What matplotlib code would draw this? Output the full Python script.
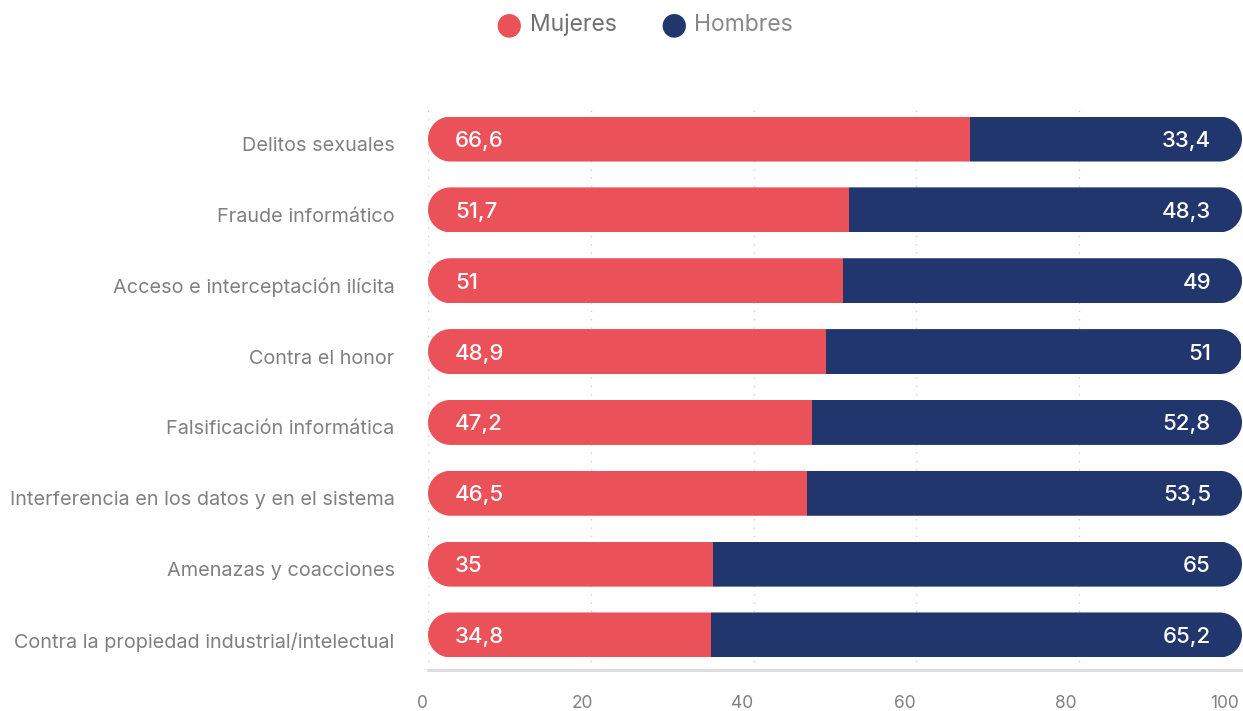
import matplotlib
matplotlib.use("Agg")
import matplotlib.pyplot as plt
import matplotlib.transforms as mtransforms
from matplotlib.patches import Polygon
import numpy as np

plt.rcParams['font.family'] = ['Inter', 'DejaVu Sans']

categories = [
    "Delitos sexuales",
    "Fraude informático",
    "Acceso e interceptación ilícita",
    "Contra el honor",
    "Falsificación informática",
    "Interferencia en los datos y en el sistema",
    "Amenazas y coacciones",
    "Contra la propiedad industrial/intelectual",
]
mujeres = [66.6, 51.7, 51, 48.9, 47.2, 46.5, 35, 34.8]
hombres = [33.4, 48.3, 49, 51, 52.8, 53.5, 65, 65.2]
xticks = [0, 20, 40, 60, 80, 100]

RED = "#EA5159"
BLUE = "#22366E"
GRAY = "#808080"

W, H = 1243, 711
fig = plt.figure(figsize=(W / 100, H / 100), dpi=100)
ax_l, ax_r, ax_t, ax_b = 428, 1242, 103.6, 670.4
ax = fig.add_axes([ax_l / W, (H - ax_b) / H, (ax_r - ax_l) / W, (ax_b - ax_t) / H])

n = len(categories)
ax.set_xlim(0, 100)
ax.set_ylim(n - 0.5, -0.5)

# pixels per data unit, for pill shaped bars
px_x = (ax_r - ax_l) / 100
px_y = (ax_b - ax_t) / n
bar_h = 45 / px_y
rx = (45 / 2) / px_x
ry = bar_h / 2


def pill(yc):
    t = np.linspace(np.pi / 2, 3 * np.pi / 2, 40)
    left = np.column_stack([rx + rx * np.cos(t), yc + ry * np.sin(t)])
    t2 = np.linspace(-np.pi / 2, np.pi / 2, 40)
    right = np.column_stack([100 - rx + rx * np.cos(t2), yc + ry * np.sin(t2)])
    return Polygon(np.vstack([left, right]), closed=True, facecolor="none",
                   edgecolor="none", transform=ax.transData)


y = np.arange(n)
for xv in xticks:
    ax.axvline(xv, color="#cfcfcf", lw=1, ls=(0, (1, 5)), zorder=0)

red_bars = ax.barh(y, mujeres, height=bar_h, color=RED, zorder=2)
blue_bars = ax.barh(y, hombres, left=mujeres, height=bar_h, color=BLUE, zorder=2)

for i in range(n):
    p = pill(y[i])
    ax.add_patch(p)
    red_bars[i].set_clip_path(p)
    blue_bars[i].set_clip_path(p)

    lbl_m = f"{mujeres[i]:g}".replace(".", ",")
    lbl_h = f"{hombres[i]:g}".replace(".", ",")
    ax.annotate(lbl_m, (0, y[i]), xytext=(27, -2), textcoords="offset pixels",
                color="white", fontsize=16, fontweight="medium",
                va="center", ha="left", zorder=3)
    ax.annotate(lbl_h, (100, y[i]), xytext=(-31, -2), textcoords="offset pixels",
                color="white", fontsize=16, fontweight="medium",
                va="center", ha="right", zorder=3)

ax.set_yticks(y)
ax.set_yticklabels(categories, fontsize=14.3, color=GRAY)
ax.tick_params(axis="y", length=0, pad=24)
down = mtransforms.ScaledTranslation(0, -5 / 100, fig.dpi_scale_trans)
for lab in ax.get_yticklabels():
    lab.set_transform(lab.get_transform() + down)

ax.set_xticks(xticks)
ax.set_xticklabels([str(v) for v in xticks], fontsize=12.5, color=GRAY)
ax.tick_params(axis="x", length=0, pad=18)
x_shift = [-6, -8, -12, -12, -13, -17]
for lab, dx in zip(ax.get_xticklabels(), x_shift):
    lab.set_transform(lab.get_transform()
                      + mtransforms.ScaledTranslation(dx / 100, 0, fig.dpi_scale_trans))

for s in ["top", "right", "left"]:
    ax.spines[s].set_visible(False)
ax.spines["bottom"].set_color("#dcdcdc")
ax.spines["bottom"].set_linewidth(2)

# legend
ly = 1 - 25 / H
fig.text(509 / W, ly, "●", color=RED, fontsize=22, ha="center", va="center",
         family="DejaVu Sans")
fig.text(530 / W, ly, "Mujeres", color="#707070", fontsize=16.5, ha="left", va="center")
fig.text(674 / W, ly, "●", color=BLUE, fontsize=22, ha="center", va="center",
         family="DejaVu Sans")
fig.text(694 / W, ly, "Hombres", color="#888888", fontsize=16.5, ha="left", va="center")

fig.savefig("out.png", dpi=100, facecolor="white")
